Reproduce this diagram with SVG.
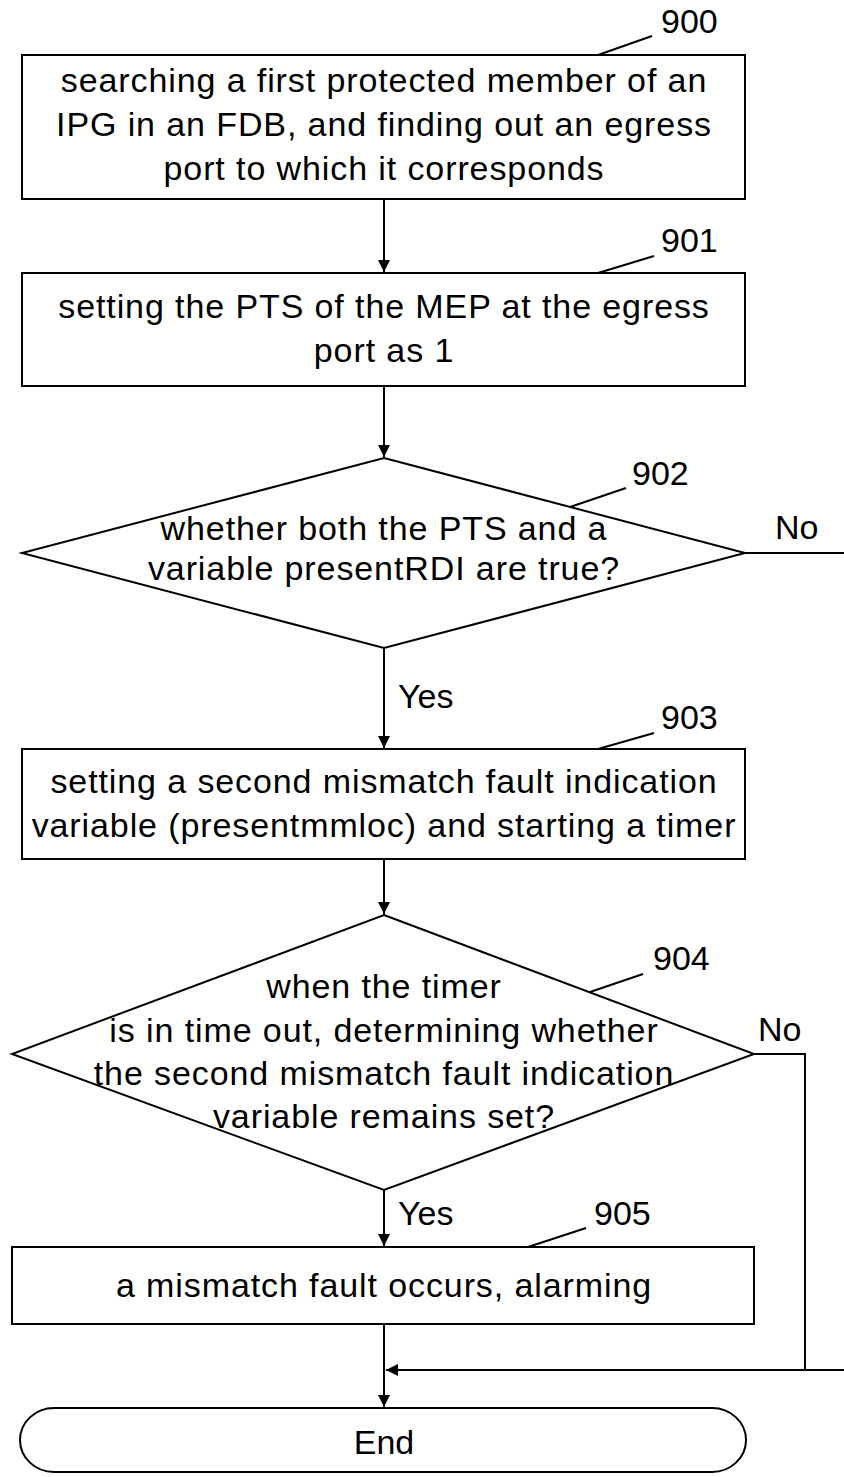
<svg xmlns="http://www.w3.org/2000/svg" width="844" height="1477" viewBox="0 0 844 1477">
<defs>
<style>
.s{fill:#fff;stroke:#000;stroke-width:2}
.l{fill:none;stroke:#000;stroke-width:2}
.t{font-family:"Liberation Sans",Arial,sans-serif;font-size:34px;letter-spacing:0.9px;fill:#000;text-anchor:middle}
.n{font-family:"Liberation Sans",Arial,sans-serif;font-size:34px;fill:#000}
</style>
<marker id="a" viewBox="0 0 12 12" refX="12" refY="6" markerWidth="12" markerHeight="12" markerUnits="userSpaceOnUse" orient="auto">
<path d="M0,0 L12,6 L0,12 Z" fill="#000"/>
</marker>
</defs>
<rect width="844" height="1477" fill="#fff"/>
<g id="connectors">
<line class="l" x1="384" y1="199" x2="384" y2="272" marker-end="url(#a)"/>
<line class="l" x1="384" y1="386" x2="384" y2="457" marker-end="url(#a)"/>
<line class="l" x1="384" y1="648" x2="384" y2="748" marker-end="url(#a)"/>
<line class="l" x1="384" y1="859" x2="384" y2="914" marker-end="url(#a)"/>
<line class="l" x1="384" y1="1190" x2="384" y2="1246" marker-end="url(#a)"/>
<line class="l" x1="384" y1="1324" x2="384" y2="1407" marker-end="url(#a)"/>
<line class="l" x1="745" y1="553" x2="844" y2="553"/>
<polyline class="l" points="754,1054 805,1054 805,1370"/>
<line class="l" x1="844" y1="1370" x2="386" y2="1370" marker-end="url(#a)"/>
<text class="n" x="398" y="708">Yes</text>
<text class="n" x="775" y="539">No</text>
<text class="n" x="758" y="1041">No</text>
<text class="n" x="398" y="1225">Yes</text>
</g>
<g id="n900">
<rect class="s" x="22" y="55" width="723" height="144"/>
<text class="t" x="384" y="92">searching a first protected member of an</text>
<text class="t" x="384" y="136">IPG in an FDB, and finding out an egress</text>
<text class="t" x="384" y="180">port to which it corresponds</text>
<line class="l" x1="598" y1="55" x2="652" y2="36"/>
<text class="n" x="661" y="33">900</text>
</g>
<g id="n901">
<rect class="s" x="22" y="273" width="723" height="113"/>
<text class="t" x="384" y="318">setting the PTS of the MEP at the egress</text>
<text class="t" x="384" y="362">port as 1</text>
<line class="l" x1="598" y1="273" x2="654" y2="256"/>
<text class="n" x="661" y="252">901</text>
</g>
<g id="n902">
<polygon class="s" points="384,458 745,553 384,648 22,553"/>
<text class="t" x="384" y="540">whether both the PTS and a</text>
<text class="t" x="384" y="580">variable presentRDI are true?</text>
<line class="l" x1="570" y1="507" x2="626" y2="488"/>
<text class="n" x="632" y="485">902</text>
</g>
<g id="n903">
<rect class="s" x="22" y="749" width="723" height="110"/>
<text class="t" x="384" y="793">setting a second mismatch fault indication</text>
<text class="t" x="384" y="837">variable (presentmmloc) and starting a timer</text>
<line class="l" x1="598" y1="749" x2="654" y2="733"/>
<text class="n" x="661" y="729">903</text>
</g>
<g id="n904">
<polygon class="s" points="384,915 754,1054 384,1190 12,1054"/>
<text class="t" x="384" y="998">when the timer</text>
<text class="t" x="384" y="1042">is in time out, determining whether</text>
<text class="t" x="384" y="1085">the second mismatch fault indication</text>
<text class="t" x="384" y="1128">variable remains set?</text>
<line class="l" x1="590" y1="992" x2="643" y2="974"/>
<text class="n" x="653" y="970">904</text>
</g>
<g id="n905">
<rect class="s" x="12" y="1247" width="742" height="77"/>
<text class="t" x="384" y="1297">a mismatch fault occurs, alarming</text>
<line class="l" x1="528" y1="1247" x2="586" y2="1228"/>
<text class="n" x="594" y="1225">905</text>
</g>
<g id="end">
<rect class="s" x="20" y="1408" width="726" height="64" rx="34" ry="32"/>
<text class="t" x="384" y="1454" style="letter-spacing:0">End</text>
</g>
</svg>
